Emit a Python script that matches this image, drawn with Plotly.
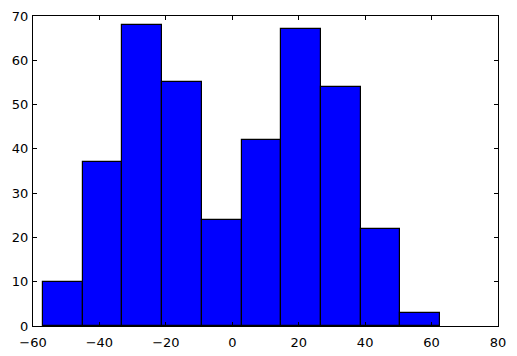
import plotly.graph_objects as go

bin_edges = [-57.0, -45.04, -33.08, -21.12, -9.16, 2.8, 14.76, 26.72, 38.68, 50.64, 62.6]
counts = [10, 37, 68, 55, 24, 42, 67, 54, 22, 3]
x_ticks = [-60, -40, -20, 0, 20, 40, 60, 80]
y_ticks = [0, 10, 20, 30, 40, 50, 60, 70]

centers = [(a + b) / 2 for a, b in zip(bin_edges[:-1], bin_edges[1:])]
widths = [b - a for a, b in zip(bin_edges[:-1], bin_edges[1:])]

fig = go.Figure(go.Bar(
    x=centers, y=counts, width=widths,
    marker=dict(color="#0000ff", line=dict(color="black", width=1.2)),
))

axis_common = dict(
    showgrid=False, zeroline=False, showline=True, linecolor="black", linewidth=1,
    mirror="ticks", ticks="inside", ticklen=4, tickcolor="black", tickwidth=1,
    automargin=False,
    tickfont=dict(family="DejaVu Sans", size=13, color="black"),
)

fig.update_layout(
    width=517, height=356,
    margin=dict(l=33, r=19, t=16, b=30),
    paper_bgcolor="white", plot_bgcolor="white",
    showlegend=False, bargap=0,
    xaxis=dict(range=[-60, 80], tickvals=x_ticks, ticktext=[str(v).replace("-", "\u2212") for v in x_ticks],
               ticklabelstandoff=4, **axis_common),
    yaxis=dict(range=[0, 70], tickvals=y_ticks, ticklabelstandoff=1, **axis_common),
)

fig.write_html("out.html")
